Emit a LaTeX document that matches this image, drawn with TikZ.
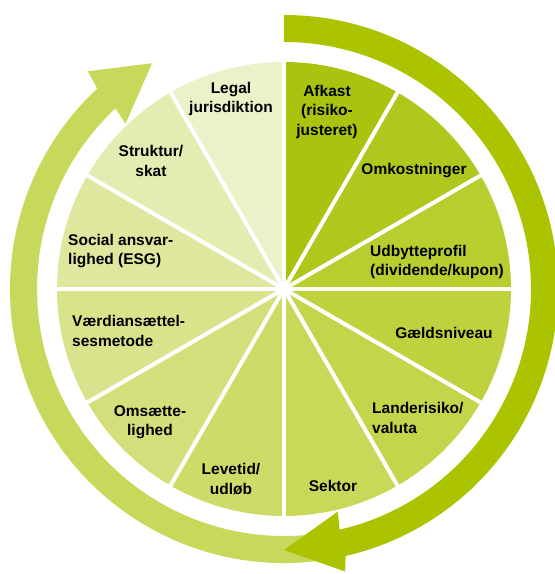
\documentclass[tikz,border=0pt]{standalone}
\usepackage{fontspec}
\setmainfont{Liberation Sans}
\definecolor{s1}{HTML}{A9C30F}
\definecolor{s2}{HTML}{B0C81E}
\definecolor{s3}{HTML}{B8CD2E}
\definecolor{s4}{HTML}{BFD13C}
\definecolor{s5}{HTML}{C5D54B}
\definecolor{s6}{HTML}{CAD85A}
\definecolor{s7}{HTML}{CEDB69}
\definecolor{s8}{HTML}{D4DF7B}
\definecolor{s9}{HTML}{D9E38C}
\definecolor{s10}{HTML}{DFE79E}
\definecolor{s11}{HTML}{E5ECB1}
\definecolor{s12}{HTML}{EBF1C8}
\definecolor{arrdark}{HTML}{ACC400}
\definecolor{arrlight}{HTML}{C8D85A}
\begin{document}
\begin{tikzpicture}[x=1pt,y=1pt,
  lbl/.style={inner sep=0pt, font=\fontsize{15.5}{19.5}\selectfont\bfseries, text=black},
  lblc/.style={lbl, align=center},
  lbll/.style={lbl, align=left, anchor=west},
  sep/.style={white, line width=4pt}]
\useasboundingbox (-284,-285) rectangle (271,289);
% sectors
\foreach \i/\c [evaluate=\i as \a using 90-30*\i, evaluate=\i as \b using 60-30*\i] in {0/s1,1/s2,2/s3,3/s4,4/s5,5/s6,6/s7,7/s8,8/s9,9/s10,10/s11,11/s12}
  \fill[\c] (0,0) -- (\a:227) arc[start angle=\a, end angle=\b, radius=227] -- cycle;
\foreach \k in {0,...,11}
  \draw[sep] (0,0) -- (30*\k:230);
% light arrow (left)
\fill[arrlight] (281:274) arc[start angle=281, end angle=133, radius=274]
  -- (132:293) -- (120.3:261.5) -- (133.8:229) -- (133:247)
  arc[start angle=133, end angle=281, radius=247] -- cycle;
% dark arrow (right)
\fill[arrdark] (90:274) arc[start angle=90, end angle=-77, radius=274]
  -- (-77.8:289) -- (-90:261) -- (-76.4:229) -- (-77:247)
  arc[start angle=-77, end angle=90, radius=247] -- cycle;
% labels
\node[lblc] (afkast) at (43,177.5) {Afkast\\(risiko-\\justeret)};
\node[lblc] (omk) at (130,118) {Omkostninger};
\node[lbll] (udb) at (86,27) {Udbytteprofil\\(dividende/kupon)};
\node[lblc] (gaeld) at (160,-44) {Gældsniveau};
\node[lbll] (land) at (88,-129) {Landerisiko/\\valuta};
\node[lblc] (sektor) at (49,-197) {Sektor};
\node[lblc] (levetid) at (-53,-190) {Levetid/\\udløb};
\node[lblc] (omsaet) at (-134,-133) {Omsætte-\\lighed};
\node[lbll] (vaerdi) at (-212,-42) {Værdiansættel-\\sesmetode};
\node[lbll] (social) at (-216,38) {Social ansvar-\\lighed (ESG)};
\node[lblc] (struktur) at (-133,128) {Struktur/\\skat};
\node[lblc] (legal) at (-53,190) {Legal\\jurisdiktion};
\end{tikzpicture}
\end{document}
